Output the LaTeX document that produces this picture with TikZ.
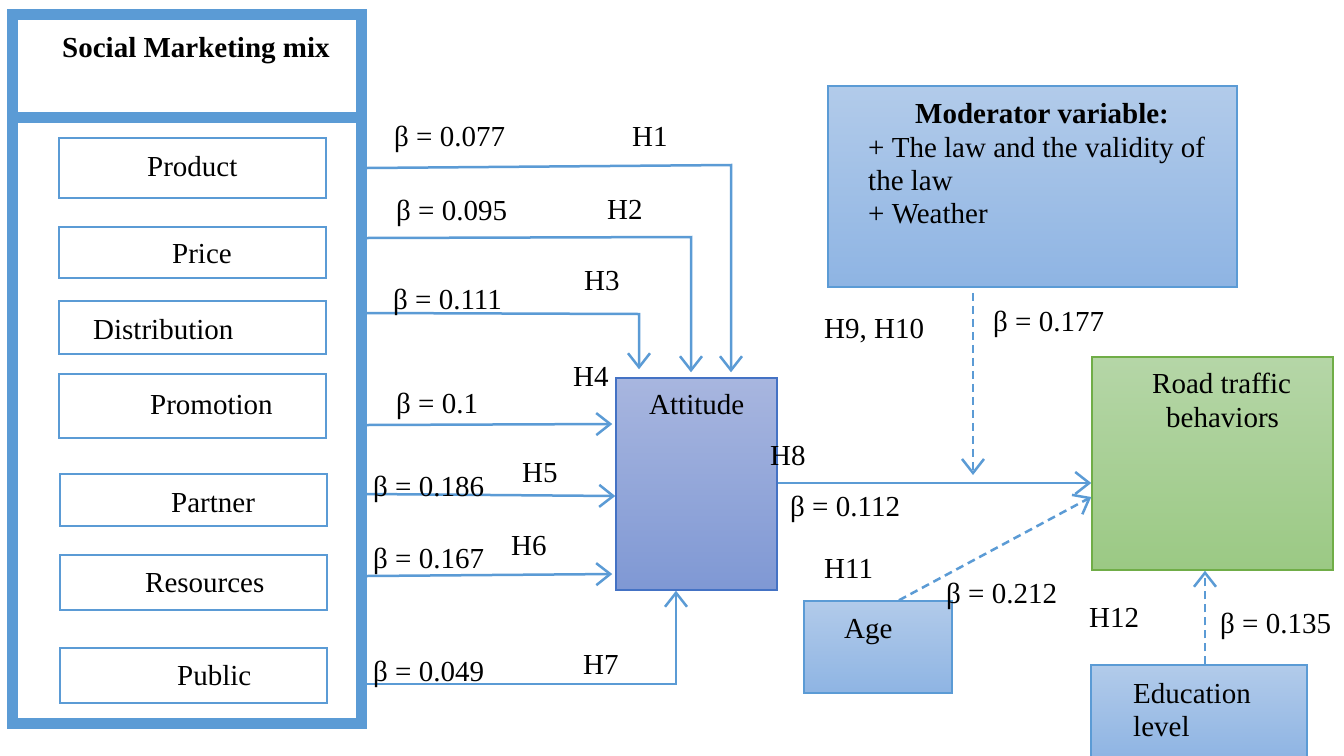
\documentclass[tikz,border=0pt]{standalone}
\usepackage{fontspec}
\setmainfont{Liberation Serif}
\usetikzlibrary{arrows.meta}
\definecolor{lb}{HTML}{5B9BD5}
\definecolor{attborder}{HTML}{4472C4}
\definecolor{atttop}{HTML}{A8B6DF}
\definecolor{attbot}{HTML}{7F98D4}
\definecolor{grborder}{HTML}{70AD47}
\definecolor{grtop}{HTML}{B5D6A7}
\definecolor{grbot}{HTML}{9BC984}
\definecolor{bltop}{HTML}{B2CBEA}
\definecolor{blbot}{HTML}{8EB4E3}
\begin{document}
\begin{tikzpicture}[x=1pt,y=-1pt,
  font=\fontsize{29}{33}\selectfont,
  frame/.style={draw=lb, line width=11pt, minimum width=349pt, inner sep=0pt},
  itembox/.style={draw=lb, line width=2pt, fill=white, minimum width=267pt, inner sep=0pt},
  lbl/.style={anchor=base west, inner sep=0pt},
  shadedbox/.style={draw=lb, line width=1.5pt, top color=bltop, bottom color=blbot, inner sep=0pt},
  arr/.style={draw=lb, line width=2.5pt, -{Straight Barb[length=14pt,width=22pt]}},
  dsh/.style={arr, dash pattern=on 8pt off 5pt}]
\useasboundingbox (0,0) rectangle (1344,755);
\fill[white] (0,0) rectangle (1344,755);

% Social marketing mix frame
\node[frame, minimum height=605.5pt] (mix) at (187,420.25) {};
\node[frame, minimum height=103.5pt] (head) at (187,65.75) {};
\node[lbl, font=\fontsize{29}{33}\selectfont\bfseries] (title) at (62,57) {Social Marketing mix};

% items
\node[itembox, minimum height=60pt] (prod) at (192.5,168) {};
\node[itembox, minimum height=51pt] (price) at (192.5,252.5) {};
\node[itembox, minimum height=53pt] (dist) at (192.5,327.5) {};
\node[itembox, minimum height=64pt] (prom) at (192.5,406) {};
\node[itembox, minimum height=52pt] (part) at (193.5,500) {};
\node[itembox, minimum height=55pt] (res) at (193.5,582.5) {};
\node[itembox, minimum height=55pt] (pub) at (193.5,675.5) {};
\node[lbl] (tprod) at (147,176) {Product};
\node[lbl] (tprice) at (172,263) {Price};
\node[lbl] (tdist) at (93,339) {Distribution};
\node[lbl] (tprom) at (150,414) {Promotion};
\node[lbl] (tpart) at (171,512) {Partner};
\node[lbl] (tres) at (145,592) {Resources};
\node[lbl] (tpub) at (177,685) {Public};

% Attitude
\node[draw=attborder, line width=1.5pt, top color=atttop, bottom color=attbot,
      minimum width=161pt, minimum height=212pt, inner sep=0pt] (att) at (696.5,484) {};
\node[lbl] (tatt) at (649,414) {Attitude};

% Road traffic behaviors
\node[draw=grborder, line width=1.5pt, top color=grtop, bottom color=grbot,
      minimum width=241pt, minimum height=213pt, inner sep=0pt] (road) at (1212.5,463.5) {};
\node[lbl] (troad1) at (1152,393) {Road traffic};
\node[lbl] (troad2) at (1166,427) {behaviors};

% Moderator
\node[shadedbox, minimum width=409pt, minimum height=201pt] (mod) at (1032.5,186.5) {};
\node[lbl, font=\fontsize{29}{33}\selectfont\bfseries] (tmod0) at (915,123) {Moderator variable:};
\node[lbl] (tmod1) at (868,157) {+ The law and the validity of};
\node[lbl] (tmod2) at (868,190) {the law};
\node[lbl] (tmod3) at (868,223) {+ Weather};

% Age and Education
\node[shadedbox, minimum width=148pt, minimum height=92pt] (age) at (878,647) {};
\node[lbl] (tage) at (844,638) {Age};
\node[shadedbox, minimum width=216pt, minimum height=94pt] (edu) at (1199,712) {};
\node[lbl] (tedu1) at (1133,703) {Education};
\node[lbl] (tedu2) at (1133,736) {level};

% connectors to Attitude
\draw[arr, shorten >=5pt] (mix.east |- 0,168) -- (731,165) -- (att.north -| 731,0);
\draw[arr, shorten >=5pt] (mix.east |- 0,238) -- (691,237) -- (att.north -| 691,0);
\draw[arr, shorten >=8pt] (mix.east |- 0,313) -- (639,314) -- (att.north -| 639,0);
\draw[arr, shorten >=3pt] (mix.east |- 0,425) -- (att.west |- 0,424);
\draw[arr] (mix.east |- 0,494) -- (att.west |- 0,496);
\draw[arr, shorten >=3pt] (mix.east |- 0,576) -- (att.west |- 0,574);
\draw[arr] (mix.east |- 0,684) -- (676,684) -- (att.south -| 676,0);

% Attitude -> Road
\coordinate (m8) at (973,483);
\draw[arr] (att.east |- m8) -- (road.west |- m8);
\draw[dsh, shorten <=5pt, shorten >=8pt] (mod.south -| m8) -- (m8);
\draw[dsh] (age.north -| 899,0) -- (road.west |- 0,497);
\draw[dsh] (edu.north -| 1205,0) -- (road.south -| 1205,0);

% labels
\node[lbl] (b1) at (394,146) {β = 0.077};
\node[lbl] (h1) at (632,146) {H1};
\node[lbl] (b2) at (396,220) {β = 0.095};
\node[lbl] (h2) at (607,219) {H2};
\node[lbl] (b3) at (393,309) {β = 0.111};
\node[lbl] (h3) at (584,290) {H3};
\node[lbl] (h4) at (573,386) {H4};
\node[lbl] (b4) at (396,413) {β = 0.1};
\node[lbl] (b5) at (373,496) {β = 0.186};
\node[lbl] (h5) at (522,482) {H5};
\node[lbl] (b6) at (373,568) {β = 0.167};
\node[lbl] (h6) at (511,555) {H6};
\node[lbl] (b7) at (373,681) {β = 0.049};
\node[lbl] (h7) at (583,674) {H7};
\node[lbl] (h8) at (770,465) {H8};
\node[lbl] (b8) at (790,516) {β = 0.112};
\node[lbl] (h9) at (824,338) {H9, H10};
\node[lbl] (b9) at (993,331) {β = 0.177};
\node[lbl] (h11) at (824,578) {H11};
\node[lbl] (b11) at (946,603) {β = 0.212};
\node[lbl] (h12) at (1089,627) {H12};
\node[lbl] (b12) at (1220,633) {β = 0.135};
\end{tikzpicture}
\end{document}
